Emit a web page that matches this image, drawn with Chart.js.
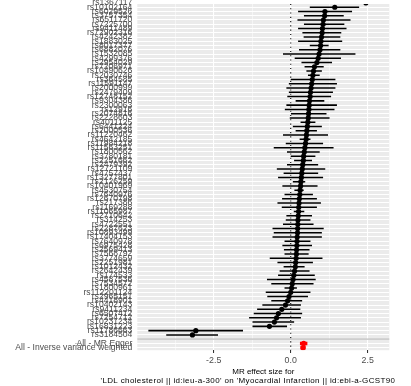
<!DOCTYPE html>
<html><head><meta charset="utf-8">
<script src="https://cdn.jsdelivr.net/npm/chart.js@4"></script>
<style>html,body{margin:0;padding:0;background:#fff;overflow:hidden}</style>
</head><body>
<canvas id="c" width="411" height="386"></canvas>
<script>
// ---- data (top row first) ----
const snpLabels = ['rs1367117','rs10102164','rs6029526','rs3757354','rs6511720','rs7225700','rs9411489','rs72902316','rs4242382','rs1883025',
 'rs8017377','rs6882076','rs1532085','rs4299376','rs2954029','rs7206971','rs10490626','rs2030746','rs364585','rs11591147',
 'rs2000999','rs2479409','rs12748152','rs9304386','rs2300063','rs12916','rs2074816','rs2228603','rs4011125','rs6441224',
 'rs2000536','rs11220462','rs4642185','rs11984218','rs11563251','rs1800562','rs3780181','rs2251662','rs2479392','rs12721109',
 'rs4757437','rs13277801','rs2126259','rs10401969','rs4530754','rs7640976','rs12670798','rs217386','rs1169288','rs11065987',
 'rs2710642','rs314253','rs4722551','rs2287623','rs10893499','rs17404153','rs7640978','rs6975428','rs2569413','rs7568792',
 'rs3774659','rs2251981','rs1012432','rs2642439','rs174533','rs4587536','rs7534572','rs1800961','rs112201124','rs2965151',
 'rs4418901','rs10402143','rs9411234','rs6507412','rs7254712','rs10231234','rs16831223','rs11786663','rs3184504'];
const snpBeta = [2.44,1.43,1.11,1.10,1.06,1.05,1.03,1.02,1.00,0.98,
 0.97,0.95,0.92,0.89,0.85,0.77,0.74,0.72,0.70,0.68,
 0.66,0.64,0.63,0.61,0.60,0.59,0.58,0.57,0.555,0.54,
 0.525,0.51,0.50,0.48,0.46,0.44,0.42,0.41,0.39,0.375,
 0.36,0.345,0.33,0.32,0.305,0.295,0.28,0.27,0.26,0.255,
 0.245,0.235,0.23,0.225,0.22,0.21,0.205,0.20,0.19,0.185,
 0.175,0.16,0.15,0.125,0.10,0.075,0.05,0.03,0.00,-0.055,
 -0.10,-0.17,-0.29,-0.40,-0.46,-0.53,-0.69,-3.08,-3.19];
const snpLower = [2.05,0.63,0.25,0.44,0.23,0.44,0.25,0.39,0.43,0.25,
 0.63,0.28,-0.24,0.14,0.36,0.46,0.52,0.57,0.01,-0.05,
 -0.13,-0.05,-0.10,0.17,-0.13,-0.18,0.00,-0.02,0.33,0.08,
 0.17,-0.24,0.30,-0.15,-0.54,-0.11,0.01,0.12,-0.11,-0.44,
 -0.22,-0.40,0.08,-0.26,0.13,-0.19,-0.27,-0.42,-0.28,0.11,
 -0.13,-0.15,-0.24,-0.58,-0.54,-0.58,-0.19,-0.26,-0.21,-0.19,
 -0.67,-0.42,-0.22,-0.35,-0.40,-0.76,-0.62,-0.19,-0.80,-0.75,
 -0.62,-0.91,-1.08,-1.19,-1.34,-1.23,-1.23,-4.61,-4.03];
const snpUpper = [2.83,2.21,1.98,1.71,1.93,1.73,1.80,1.63,1.60,1.66,
 1.22,1.60,2.09,1.62,1.33,1.06,1.00,0.93,1.44,1.49,
 1.44,1.36,1.30,1.08,1.49,1.41,1.15,1.25,0.79,1.00,
 0.84,1.20,0.63,1.04,1.38,0.93,0.79,0.68,0.88,1.11,
 0.88,1.04,0.46,0.86,0.41,0.71,0.84,0.97,0.84,0.43,
 0.68,0.63,0.73,1.06,1.00,1.00,0.63,0.68,0.60,0.57,
 1.02,0.71,0.44,0.60,0.77,0.80,0.73,0.19,0.63,0.55,
 0.36,0.32,0.30,0.36,0.32,0.10,-0.13,-1.56,-2.37];
const summaryLabels = ['All - MR Egger','All - Inverse variance weighted'];
const summaryBeta = [0.42, 0.40];
const summaryLower = [0.31, 0.33];
const summaryUpper = [0.53, 0.47];
const xMajorTicks = [-2.5, 0, 2.5];
const xTickLabels = ['-2.5', '0.0', '2.5'];
const xMinorTicks = [-3.75, -1.25, 1.25];
const xTitle = ['MR effect size for', "'LDL cholesterol || id:ieu-a-300' on 'Myocardial Infarction || id:ebi-a-GCST90018877'"];

// ---- derived ----
const rowLabels = snpLabels.concat([''], summaryLabels);
const blankRow = snpLabels.length;
const sumRow = i => blankRow + 1 + i;

const FONT = "'Liberation Sans', Arial, Helvetica, sans-serif";

const panelBg = {
  id: 'panelBg',
  beforeDraw(chart) {
    const {ctx, chartArea: a} = chart;
    ctx.save(); ctx.fillStyle = '#EBEBEB';
    ctx.fillRect(a.left, a.top, a.right - a.left, a.bottom - a.top);
    ctx.restore();
  },
  beforeDatasetsDraw(chart) {
    const {ctx, chartArea: a, scales} = chart;
    const x0 = scales.x.getPixelForValue(0);
    ctx.save();
    ctx.beginPath(); ctx.rect(a.left, a.top, a.right - a.left, a.bottom - a.top); ctx.clip();
    ctx.strokeStyle = '#000'; ctx.lineWidth = 1.07; ctx.setLineDash([1.07, 3.2]);
    ctx.beginPath(); ctx.moveTo(x0, a.top); ctx.lineTo(x0, a.bottom); ctx.stroke();
    ctx.restore();
  },
  afterDatasetsDraw(chart) {
    const {ctx, chartArea: a, scales} = chart;
    const y = scales.y.getPixelForValue(blankRow);
    ctx.save(); ctx.strokeStyle = '#BEBEBE'; ctx.lineWidth = 1.07;
    ctx.beginPath(); ctx.moveTo(a.left, y); ctx.lineTo(a.right, y); ctx.stroke();
    ctx.restore();
  },
  afterDraw(chart) {
    // two-line x-axis title, centred on the panel; the original device ended 5.5px right of the panel
    const {ctx, chartArea: a, scales} = chart;
    const xs = scales.x;
    const cx = (a.left + a.right) / 2;
    ctx.save();
    ctx.beginPath(); ctx.rect(0, xs.top, a.right + 5.5, xs.bottom - xs.top); ctx.clip();
    ctx.fillStyle = '#000'; ctx.textAlign = 'center'; ctx.textBaseline = 'middle';
    ctx.font = '8px ' + FONT;
    ctx.fillText(xTitle[0], cx, xs.bottom - 14.5);
    ctx.letterSpacing = '0.36px';
    ctx.fillText(xTitle[1], cx, xs.bottom - 5);
    ctx.restore();
  }
};

new Chart(document.getElementById('c'), {
  data: {
    datasets: [
      { type: 'scatter', order: 0,
        data: snpBeta.map((b, i) => ({x: b, y: i})),
        pointRadius: 2.6, pointBackgroundColor: '#000', pointBorderWidth: 0, pointHoverRadius: 2.6 },
      { type: 'scatter', order: 0,
        data: summaryBeta.map((b, i) => ({x: b, y: sumRow(i)})),
        pointRadius: 2.6, pointBackgroundColor: '#FF0000', pointBorderWidth: 0 },
      { type: 'bar', indexAxis: 'y', order: 1, grouped: false,
        data: snpLower.map((lo, i) => ({x: [lo, snpUpper[i]], y: i})),
        backgroundColor: '#000', borderWidth: 0, barThickness: 0.85 },
      { type: 'bar', indexAxis: 'y', order: 1, grouped: false,
        data: summaryLower.map((lo, i) => ({x: [lo, summaryUpper[i]], y: sumRow(i)})),
        backgroundColor: '#FF0000', borderWidth: 0, barThickness: 2.85 }
    ]
  },
  options: {
    responsive: false, animation: false, devicePixelRatio: 1,
    layout: { padding: {left: 0, right: 21.7, top: 0, bottom: 0} },
    plugins: { legend: {display: false}, tooltip: {enabled: false} },
    scales: {
      x: {
        type: 'linear', position: 'bottom', min: -4.98, max: 3.20, offset: false,
        afterBuildTicks: s => { s.ticks = xMinorTicks.concat(xMajorTicks).sort((a, b) => a - b).map(v => ({value: v})); },
        afterFit: s => { s.height = 35.8; s.paddingLeft = 0; s.paddingRight = 0; },
        border: {display: false},
        grid: {
          offset: false,
          color: '#FFFFFF',
          lineWidth: c => xMajorTicks.includes(c.tick && c.tick.value) ? 1.07 : 0.53,
          drawTicks: true, tickLength: 2.75, tickWidth: 1.07,
          tickColor: c => xMajorTicks.includes(c.tick && c.tick.value) ? '#333333' : 'rgba(0,0,0,0)'
        },
        ticks: {
          autoSkip: false, maxRotation: 0, padding: 2, color: '#4D4D4D',
          font: {family: FONT, size: 8.8},
          callback: v => { const k = xMajorTicks.indexOf(v); return k >= 0 ? xTickLabels[k] : ''; }
        },
        title: { display: false }
      },
      y: {
        type: 'linear', position: 'left', reverse: true, min: 0.232, max: 81.6, offset: false,
        afterBuildTicks: s => { s.ticks = rowLabels.map((_, i) => ({value: i})); },
        afterFit: s => { s.width = 137.3; s.paddingTop = 0; s.paddingBottom = 0; },
        border: {display: false},
        grid: { offset: false, color: '#FFFFFF', lineWidth: 1.07, drawTicks: true, tickLength: 2.75, tickColor: 'rgba(0,0,0,0)' },
        ticks: {
          autoSkip: false, padding: 2.2, color: '#4D4D4D',
          font: {family: FONT, size: 8.6},
          callback: v => rowLabels[v]
        }
      }
    }
  },
  plugins: [panelBg]
});
</script>
</body></html>
